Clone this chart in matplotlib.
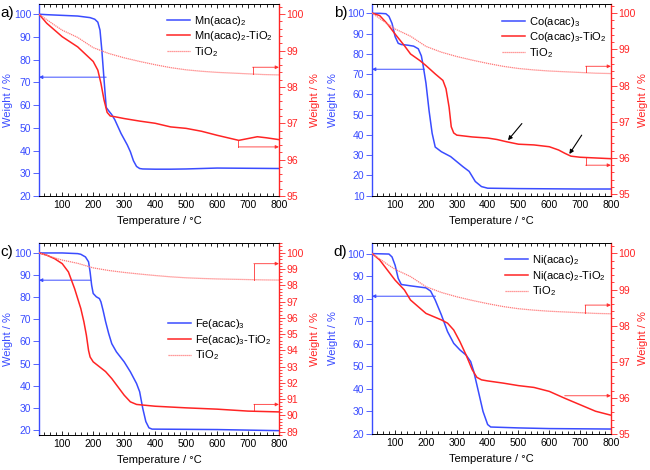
from matplotlib import pyplot as plt

plt.rcParams['font.family'] = ['Liberation Sans', 'DejaVu Sans']
plt.rcParams['mathtext.fontset'] = 'custom'
plt.rcParams['mathtext.rm'] = 'Liberation Sans'

BLUE = "#3a4cff"
RED = "#ff2424"
LIGHT_RED = "#ff7a7a"

# TiO2 reference curve (same in every panel, right axis)
tio2_T = [25, 50, 75, 100, 150, 200, 250, 300, 350, 400, 450, 500, 550, 600, 650, 700, 750, 800]
tio2_W = [100, 99.85, 99.7, 99.56, 99.36, 99.08, 98.92, 98.8, 98.7, 98.61, 98.53, 98.47, 98.43,
          98.4, 98.38, 98.36, 98.34, 98.33]

# a) Mn(acac)2
mn_T = [25, 50, 100, 150, 190, 205, 215, 222, 228, 236, 242, 250, 260, 270, 280, 290, 300, 310,
        320, 330, 340, 350, 360, 400, 450, 500, 550, 600, 700, 800]
mn_W = [100, 99.8, 99.5, 99.2, 98.5, 97.8, 96.5, 93, 84, 69.5, 59, 57.5, 55.8, 53.5, 50.5, 47.5,
        45, 42.5, 39.5, 35.5, 33, 32.1, 31.9, 31.8, 31.8, 31.9, 32.1, 32.3, 32.2, 32.1]
mnt_T = [25, 50, 100, 150, 200, 215, 225, 235, 245, 255, 270, 300, 350, 400, 450, 500, 550, 600,
         650, 670, 700, 730, 760, 800]
mnt_W = [100, 99.75, 99.38, 99.1, 98.7, 98.46, 98.1, 97.64, 97.3, 97.2, 97.18, 97.13, 97.06, 97.0,
         96.9, 96.86, 96.78, 96.67, 96.57, 96.53, 96.58, 96.63, 96.6, 96.55]

# b) Co(acac)3
co_T = [25, 50, 70, 80, 90, 100, 110, 120, 140, 160, 175, 185, 190, 200, 210, 220, 230, 250, 280,
        300, 320, 340, 360, 380, 400, 500, 600, 700, 800]
co_W = [100, 100, 99.8, 98.5, 95, 88.5, 85.2, 84.6, 84.3, 83.8, 82.5, 79, 75, 65.5, 52, 40.8, 34,
        31.7, 29.3, 26.8, 24.3, 22, 17, 14.5, 13.7, 13.5, 13.4, 13.3, 13.3]
cot_T = [25, 50, 75, 100, 130, 150, 180, 200, 230, 255, 265, 275, 282, 290, 300, 350, 400, 430,
         460, 500, 550, 600, 630, 650, 670, 700, 800]
cot_W = [100, 99.93, 99.7, 99.42, 99.1, 98.87, 98.69, 98.55, 98.32, 98.14, 97.91, 97.4, 96.86,
         96.69, 96.63, 96.58, 96.55, 96.51, 96.45, 96.38, 96.36, 96.31, 96.22, 96.13, 96.05,
         96.02, 95.98]

# c) Fe(acac)3
fe_T = [25, 100, 150, 160, 175, 185, 190, 195, 200, 210, 220, 225, 232, 240, 250, 260, 275, 300,
        320, 340, 350, 360, 370, 380, 390, 500, 600, 800]
fe_W = [100, 100, 99.7, 99.4, 98.2, 96, 91.4, 85.4, 81.7, 80.2, 79.4, 77.9, 74, 69, 63.6, 59,
        55.3, 50.8, 46.3, 41, 37.3, 29.8, 23.8, 21, 20.4, 20.3, 20.2, 19.7]
fet_T = [25, 50, 75, 100, 120, 140, 160, 170, 178, 185, 190, 200, 220, 240, 260, 280, 300, 320,
         340, 400, 500, 600, 700, 800]
fet_W = [100, 99.86, 99.65, 99.34, 98.83, 97.8, 96.58, 95.76, 94.94, 94.0, 93.6, 93.3, 93.0,
         92.7, 92.27, 91.76, 91.25, 90.84, 90.68, 90.57, 90.47, 90.39, 90.27, 90.22]

# d) Ni(acac)2
ni_T = [25, 80, 90, 100, 110, 120, 150, 200, 215, 230, 250, 270, 290, 310, 330, 345, 355, 370,
        385, 400, 410, 500, 600, 800]
ni_W = [100, 99.8, 98.5, 94.8, 89, 86.3, 85.7, 84.8, 83.4, 79.4, 72.8, 65.4, 60.2, 57.3, 55,
        52.1, 47.7, 38.9, 30, 24.2, 23.1, 22.7, 22.4, 22.2]
nit_T = [25, 50, 75, 100, 130, 150, 200, 250, 270, 290, 310, 330, 350, 365, 380, 400, 450, 500,
         550, 600, 650, 700, 750, 800]
nit_W = [100, 99.82, 99.54, 99.26, 98.99, 98.71, 98.34, 98.16, 98.07, 97.88, 97.56, 97.19, 96.78,
         96.57, 96.5, 96.47, 96.41, 96.34, 96.29, 96.18, 95.99, 95.81, 95.63, 95.52]

panels = [
    dict(letter="a)", name="Mn(acac)$_\\mathregular{2}$",
         T=mn_T, W=mn_W, Tc=mnt_T, Wc=mnt_W,
         rect=[39, 4, 240, 192], ylim=(20, 104.5), yticks=range(20, 101, 10),
         y2lim=(95, 100.28), y2ticks=range(95, 101), leg=(0.533, 0.95), ylab=(-0.11, 1.13),
         blue_arrow=(242, 72.3), tio2_step=(715, 98.54), comp_step=(669, 96.53, 96.35)),
    dict(letter="b)", name="Co(acac)$_\\mathregular{3}$",
         T=co_T, W=co_W, Tc=cot_T, Wc=cot_W,
         rect=[372, 4, 239, 192], ylim=(9.85, 104.6), yticks=range(10, 101, 10),
         y2lim=(94.95, 100.25), y2ticks=range(95, 101), leg=(0.544, 0.945), ylab=(-0.142, 1.115),
         blue_arrow=(195, 72.4), tio2_step=(718, 98.53), comp_step=(718, 96.01, 95.8)),
    dict(letter="c)", name="Fe(acac)$_\\mathregular{3}$",
         T=fe_T, W=fe_W, Tc=fet_T, Wc=fet_W,
         rect=[39, 243, 240, 192], ylim=(17.74, 104.5), yticks=range(20, 101, 10),
         y2lim=(88.8, 100.61), y2ticks=range(89, 101), leg=(0.5375, 0.614), ylab=(-0.11, 1.13),
         blue_arrow=(192, 87.7), tio2_step=(719, 99.34), comp_step=(719, 90.27, 90.68)),
    dict(letter="d)", name="Ni(acac)$_\\mathregular{2}$",
         T=ni_T, W=ni_W, Tc=nit_T, Wc=nit_W,
         rect=[372, 243, 239, 191], ylim=(20, 104.7), yticks=range(20, 101, 10),
         y2lim=(95, 100.29), y2ticks=range(95, 101), leg=(0.556, 0.947), ylab=(-0.142, 1.115),
         blue_arrow=(231, 81.1), tio2_step=(716, 98.57), comp_step=(650, 96.06, 96.06)),
]


def main():
    fig = plt.figure(figsize=(6.5, 4.7), dpi=100)
    W_px, H_px = 650, 470

    for p in panels:
        x0, y0, w, h = p["rect"]
        ax = fig.add_axes([x0 / W_px, 1 - (y0 + h) / H_px, w / W_px, h / H_px])
        ax2 = ax.twinx()

        l1, = ax.plot(p["T"], p["W"], color=BLUE, lw=1.1, label=p["name"])
        l2, = ax2.plot(p["Tc"], p["Wc"], color=RED, lw=1.1, label=p["name"] + "-TiO$_\\mathregular{2}$")
        l3, = ax2.plot(tio2_T, tio2_W, color=LIGHT_RED, lw=0.9, ls=(0, (1, 0.6)), label="TiO$_\\mathregular{2}$")

        ax.set_xlim(25, 800)
        ax.set_ylim(*p["ylim"])
        ax2.set_ylim(*p["y2lim"])
        ax.set_xticks(range(100, 801, 100))
        ax.set_xticks(range(50, 801, 50), minor=True)
        ax.set_yticks(list(p["yticks"]))
        ax2.set_yticks(list(p["y2ticks"]))

        ax.tick_params(axis="x", which="both", direction="in", top=True, labelsize=7.5, pad=3)
        ax.tick_params(axis="x", which="major", length=3, width=0.6)
        ax.tick_params(axis="x", which="minor", length=2, width=0.6)
        ax.tick_params(axis="y", direction="out", length=4, width=0.6, colors=BLUE, labelsize=7.5, pad=1.5)
        ax2.tick_params(axis="y", direction="out", length=4, width=0.6, colors=RED, labelsize=7.5, pad=1.5)
        ax2.minorticks_on()
        ax2.tick_params(axis="y", which="minor", length=2, width=0.6, colors=RED)
        ax2.tick_params(axis="x", which="both", bottom=False, top=False)

        for s in ["top", "bottom"]:
            ax.spines[s].set_linewidth(0.6)
            ax2.spines[s].set_linewidth(0.6)
        ax.spines["left"].set_color(BLUE)
        ax.spines["left"].set_linewidth(1.0)
        ax.spines["right"].set_visible(False)
        ax2.spines["left"].set_visible(False)
        ax2.spines["right"].set_color(RED)
        ax2.spines["right"].set_linewidth(1.0)

        ax.set_xlabel("Temperature / °C", fontsize=8, labelpad=4)
        ax.set_ylabel("Weight / %", fontsize=8, color=BLUE)
        ax2.set_ylabel("Weight / %", fontsize=8, color=RED)
        ax.yaxis.set_label_coords(p["ylab"][0], 0.5)
        ax2.yaxis.set_label_coords(p["ylab"][1], 0.5)

        # arrows showing which axis each curve belongs to
        bx, by = p["blue_arrow"]
        ax.annotate("", xy=(25, by), xytext=(bx, by),
                    arrowprops=dict(arrowstyle="-|>", color=BLUE, lw=0.7, mutation_scale=5,
                                    shrinkA=0, shrinkB=0))
        tx, ty = p["tio2_step"]
        ty0 = tio2_W[-3] if tx >= 700 else tio2_W[-4]
        ax2.plot([tx, tx], [ty0, ty], color=RED, lw=0.7, alpha=0.8)
        ax2.annotate("", xy=(800, ty), xytext=(tx, ty),
                     arrowprops=dict(arrowstyle="-|>", color=RED, lw=0.7, mutation_scale=5,
                                     shrinkA=0, shrinkB=0, alpha=0.8))
        cx, cy0, cy1 = p["comp_step"]
        ax2.plot([cx, cx], [cy0, cy1], color=RED, lw=0.7, alpha=0.8)
        ax2.annotate("", xy=(800, cy1), xytext=(cx, cy1),
                     arrowprops=dict(arrowstyle="-|>", color=RED, lw=0.7, mutation_scale=5,
                                     shrinkA=0, shrinkB=0, alpha=0.8))

        if p["letter"] == "b)":
            for (xa, ya), (xb, yb) in [((511, 96.95), (466, 96.49)), ((705, 96.63), (665, 96.11))]:
                ax2.annotate("", xy=(xb, yb), xytext=(xa, ya),
                             arrowprops=dict(arrowstyle="-|>", color="black", lw=0.8,
                                             mutation_scale=6, shrinkA=0, shrinkB=0))

        ax2.legend(handles=[l1, l2, l3], loc="upper left", bbox_to_anchor=p["leg"],
                   frameon=False, fontsize=8, borderpad=0, borderaxespad=0,
                   handlelength=2.1, handletextpad=0.3, labelspacing=0.15)

        fig.text((x0 - 39) / W_px + 0.001, 1 - (y0 + 9) / H_px, p["letter"], fontsize=11,
                 va="center", ha="left")

    plt.savefig("out.png", dpi=100)


if __name__ == "__main__":
    main()
